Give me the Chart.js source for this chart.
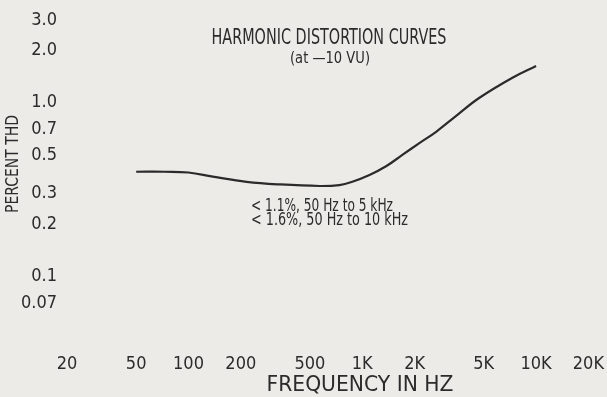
<!DOCTYPE html>
<html lang="en">
<head>
    <meta charset="UTF-8">
    <title>Harmonic Distortion Curves</title>
    <script src="https://cdn.jsdelivr.net/npm/chart.js"></script>
    <style>
        body {
            margin: 0;
            background: #ecebe8;
        }
        .chart-box {
            position: relative;
            width: 607px;
            height: 397px;
        }
    </style>
</head>
<body>
    <div class="chart-box">
        <canvas id="thdChart"></canvas>
    </div>
    <script>
// curve (Hz, % THD)
const freqHz = [50, 73, 100, 138, 216, 334, 567, 738, 876, 1100, 1370, 1700, 2130, 2660, 3470, 4700, 7270, 10000];
const thdPercent = [0.40, 0.40, 0.396, 0.375, 0.35, 0.338, 0.331, 0.335, 0.35, 0.383, 0.43, 0.50, 0.585, 0.68, 0.84, 1.065, 1.39, 1.63];

const freqTicks = [20, 50, 100, 200, 500, 1000, 2000, 5000, 10000, 20000];
const freqTickLabels = ['20', '50', '100', '200', '500', '1K', '2K', '5K', '10K', '20K'];
const thdTicks = [0.07, 0.1, 0.2, 0.3, 0.5, 0.7, 1, 2, 3];
const thdTickLabels = ['0.07', '0.1', '0.2', '0.3', '0.5', '0.7', '1.0', '2.0', '3.0'];

const titleText = 'HARMONIC DISTORTION CURVES';
const subtitleText = '(at \u201410 VU)';
const noteLines = ['< 1.1%, 50 Hz to 5 kHz', '< 1.6%, 50 Hz to 10 kHz'];
const xTitle = 'FREQUENCY IN HZ';
const yTitle = 'PERCENT THD';

const FONT = '"Liberation Sans Narrow", "DejaVu Sans Condensed", "Arial Narrow", "Liberation Sans", sans-serif';
const INK = '#2b2b2b';

// draws text squeezed to a given width (the scan uses a condensed face)
function squeezeText(ctx, text, x, y, font, width, align, angle) {
    ctx.save();
    ctx.translate(x, y);
    if (angle) ctx.rotate(angle);
    ctx.font = font;
    const k = width / ctx.measureText(text).width;
    ctx.scale(k, 1);
    ctx.textAlign = align || 'center';
    ctx.textBaseline = 'middle';
    ctx.fillText(text, 0, 0);
    ctx.restore();
}

const pageText = {
    id: 'pageText',
    afterDraw(chart) {
        const ctx = chart.ctx;
        ctx.save();
        ctx.fillStyle = INK;
        squeezeText(ctx, titleText, 329, 39, '21px ' + FONT, 235);
        squeezeText(ctx, subtitleText, 330, 59, '15px ' + FONT, 80);
        squeezeText(ctx, noteLines[0], 251, 206.5, '17px ' + FONT, 142, 'left');
        squeezeText(ctx, noteLines[1], 251, 221, '17px ' + FONT, 157, 'left');
        squeezeText(ctx, xTitle, 360, 385.5, '21px ' + FONT, 187);
        squeezeText(ctx, yTitle, 13, 164, '18px ' + FONT, 98, 'center', -Math.PI / 2);
        ctx.restore();
    }
};

new Chart(document.getElementById('thdChart'), {
    type: 'line',
    data: {
        datasets: [{
            data: freqHz.map((f, i) => ({ x: f, y: thdPercent[i] })),
            borderColor: INK,
            borderWidth: 2.2,
            pointRadius: 0,
            tension: 0.4,
            fill: false
        }]
    },
    options: {
        responsive: true,
        maintainAspectRatio: false,
        animation: false,
        layout: { padding: { top: 20, right: 17.5, bottom: 0, left: 0 } },
        plugins: {
            legend: { display: false },
            tooltip: { enabled: false }
        },
        scales: {
            x: {
                type: 'logarithmic',
                min: 20,
                max: 20000,
                // labels pushed down with tickLength so the side padding stays small
                grid: { display: false, drawTicks: true, tickLength: 43 },
                border: { display: false },
                afterFit: s => { s.height = 89; },
                afterBuildTicks: s => { s.ticks = freqTicks.map(v => ({ value: v })); },
                ticks: {
                    autoSkip: false,
                    maxRotation: 0,
                    padding: 3,
                    color: INK,
                    font: { family: FONT, size: 18 },
                    callback: (v, i) => freqTickLabels[i]
                }
            },
            y: {
                type: 'logarithmic',
                min: 0.0655,
                max: 3,
                grid: { display: false, drawTicks: true, tickLength: 8 },
                border: { display: false },
                afterFit: s => { s.width = 67; },
                afterBuildTicks: s => { s.ticks = thdTicks.map(v => ({ value: v })); },
                ticks: {
                    autoSkip: false,
                    padding: 2,
                    color: INK,
                    font: { family: FONT, size: 18 },
                    callback: (v, i) => thdTickLabels[i]
                }
            }
        }
    },
    plugins: [pageText]
});
    </script>
</body>
</html>
